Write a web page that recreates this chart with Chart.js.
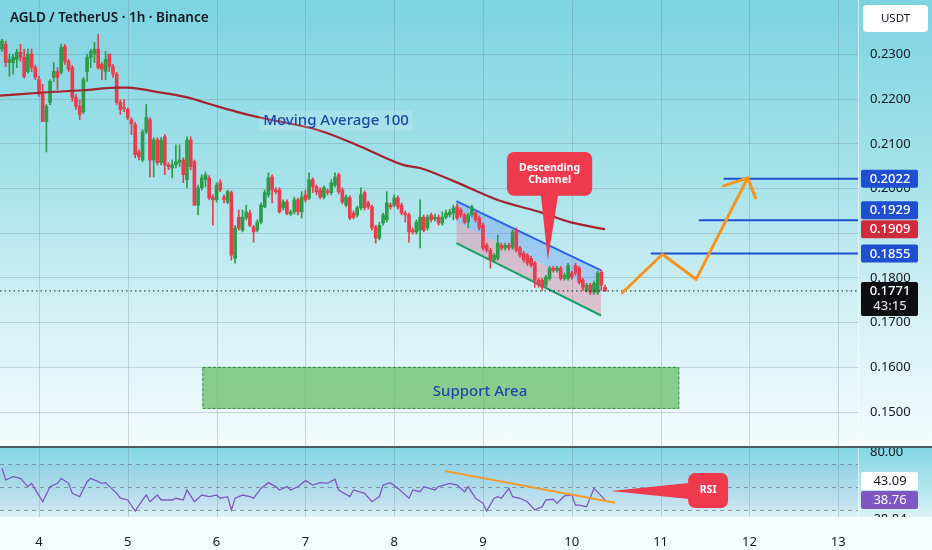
<!DOCTYPE html>
<html>
<head>
<meta charset="utf-8">
<title>AGLD / TetherUS 1h</title>
<script src="https://cdn.jsdelivr.net/npm/chart.js@4.4.1/dist/chart.umd.min.js"></script>
<style>
  html, body { margin: 0; padding: 0; }
  body { width: 932px; height: 550px; overflow: hidden; position: relative; background: #f6fcfd; }
  #mainPane { position: absolute; left: 0; top: 0; width: 932px; height: 446px;
    background: linear-gradient(180deg, #7cd4e1 0%, #a6e2ea 40%, #d3f1f5 70%, #f4fbfc 100%); }
  #sep { position: absolute; left: 0; top: 446px; width: 932px; height: 2px; background: #4f5d62; }
  #rsiPane { position: absolute; left: 0; top: 448px; width: 932px; height: 69px;
    background: linear-gradient(180deg, #82d6e3 0%, #b4e6ee 60%, #dcf3f6 100%); }
  #rsiBox { position: absolute; left: 0; top: 448px; width: 932px; height: 102px; }
  canvas { display: block; }
</style>
</head>
<body>
<div id="mainPane"><canvas id="priceChart" width="932" height="446"></canvas></div>
<div id="sep"></div>
<div id="rsiPane"></div>
<div id="rsiBox"><canvas id="rsiChart" width="932" height="102"></canvas></div>
<script>
const FONT = "'Noto Sans', 'DejaVu Sans', sans-serif";
const TEXT = '#131722';
const GRID = 'rgba(110, 135, 148, 0.3)';
const UP = '#2e9b47';
const DOWN = '#ec3b4b';
const BLUE = '#1f4fd0';
const ORANGE = '#f7931e';
const CALLOUT = '#ef3a4e';

const TITLE = 'AGLD / TetherUS \u00b7 1h \u00b7 Binance';
const CURRENCY = 'USDT';
const COUNTDOWN = '43:15';

// first candle opens on day 3 at 14:00, one candle per hour
const START_DAY = 3 + 14 / 24;
const DAY_TICKS = [4, 5, 6, 7, 8, 9, 10, 11, 12, 13];
const PRICE_TICKS = [0.15, 0.16, 0.17, 0.18, 0.19, 0.20, 0.21, 0.22, 0.23];
const X_MIN = 3.561, X_MAX = 13.223;
const P_MIN = 0.1424, P_MAX = 0.2422;
const RSI_MIN = 23.9, RSI_MAX = 83.9;

const candleOpen = [
  0.2312, 0.2323, 0.2282, 0.2282, 0.2289, 0.2305, 0.2294, 0.2262, 0.2301, 0.2271,
  0.2244, 0.2211, 0.2150, 0.2193, 0.2249, 0.2262, 0.2260, 0.2318, 0.2285, 0.2271,
  0.2204, 0.2184, 0.2172, 0.2262, 0.2294, 0.2301, 0.2312, 0.2278, 0.2262, 0.2301,
  0.2273, 0.2256, 0.2193, 0.2181, 0.2177, 0.2154, 0.2143, 0.2082, 0.2064, 0.2127,
  0.2154, 0.2064, 0.2109, 0.2058, 0.2116, 0.2053, 0.2046, 0.2053, 0.2058, 0.2064,
  0.2020, 0.2109, 0.2060, 0.1963, 0.2002, 0.2020, 0.2024, 0.1981, 0.1975, 0.2013,
  0.1981, 0.1970, 0.1991, 0.1844, 0.1936, 0.1907, 0.1934, 0.1945, 0.1914, 0.1907,
  0.1925, 0.1959, 0.1986, 0.2026, 0.1997, 0.1997, 0.1957, 0.1970, 0.1943, 0.1948,
  0.1975, 0.1948, 0.1986, 0.1979, 0.2020, 0.2004, 0.1997, 0.1981, 0.1995, 0.1991,
  0.2008, 0.2031, 0.1997, 0.1963, 0.1979, 0.1945, 0.1941, 0.1957, 0.1991, 0.1968,
  0.1959, 0.1914, 0.1889, 0.1923, 0.1930, 0.1963, 0.1963, 0.1979, 0.1963, 0.1945,
  0.1941, 0.1907, 0.1903, 0.1907, 0.1936, 0.1912, 0.1941, 0.1932, 0.1936, 0.1923,
  0.1936, 0.1941, 0.1945, 0.1959, 0.1952, 0.1941, 0.1925, 0.1941, 0.1945, 0.1934,
  0.1918, 0.1873, 0.1862, 0.1840, 0.1844, 0.1873, 0.1867, 0.1873, 0.1869, 0.1907,
  0.1867, 0.1855, 0.1851, 0.1844, 0.1833, 0.1795, 0.1795, 0.1784, 0.1799, 0.1822,
  0.1817, 0.1822, 0.1799, 0.1799, 0.1811, 0.1828, 0.1822, 0.1795, 0.1772, 0.1784,
  0.1768, 0.1768, 0.1813, 0.1779
];
const candleHigh = [
  0.2334, 0.2330, 0.2301, 0.2301, 0.2312, 0.2323, 0.2312, 0.2312, 0.2312, 0.2276,
  0.2251, 0.2233, 0.2188, 0.2244, 0.2282, 0.2271, 0.2323, 0.2323, 0.2289, 0.2276,
  0.2211, 0.2199, 0.2249, 0.2301, 0.2312, 0.2327, 0.2345, 0.2282, 0.2307, 0.2301,
  0.2278, 0.2260, 0.2199, 0.2199, 0.2181, 0.2159, 0.2148, 0.2087, 0.2132, 0.2188,
  0.2159, 0.2114, 0.2114, 0.2114, 0.2121, 0.2058, 0.2064, 0.2098, 0.2098, 0.2069,
  0.2116, 0.2116, 0.2064, 0.2008, 0.2031, 0.2037, 0.2029, 0.1986, 0.2013, 0.2020,
  0.1986, 0.1997, 0.1995, 0.1918, 0.1952, 0.1952, 0.1963, 0.1952, 0.1918, 0.1930,
  0.1968, 0.1997, 0.2035, 0.2031, 0.2002, 0.2002, 0.1975, 0.1975, 0.1952, 0.1981,
  0.1979, 0.1993, 0.1997, 0.2035, 0.2024, 0.2008, 0.2002, 0.2006, 0.1999, 0.2020,
  0.2035, 0.2035, 0.2002, 0.1986, 0.1984, 0.1950, 0.1961, 0.2002, 0.1995, 0.1972,
  0.1963, 0.1918, 0.1925, 0.1945, 0.1993, 0.1968, 0.1986, 0.1984, 0.1968, 0.1950,
  0.1945, 0.1912, 0.1930, 0.1975, 0.1941, 0.1941, 0.1945, 0.1943, 0.1941, 0.1948,
  0.1952, 0.1954, 0.1963, 0.1966, 0.1957, 0.1945, 0.1945, 0.1963, 0.1950, 0.1939,
  0.1923, 0.1878, 0.1867, 0.1855, 0.1896, 0.1878, 0.1878, 0.1878, 0.1907, 0.1912,
  0.1871, 0.1860, 0.1855, 0.1849, 0.1837, 0.1799, 0.1799, 0.1806, 0.1826, 0.1826,
  0.1826, 0.1826, 0.1811, 0.1833, 0.1815, 0.1833, 0.1826, 0.1799, 0.1788, 0.1788,
  0.1793, 0.1815, 0.1817, 0.1784
];
const candleLow = [
  0.2307, 0.2273, 0.2251, 0.2256, 0.2271, 0.2285, 0.2247, 0.2258, 0.2262, 0.2244,
  0.2206, 0.2150, 0.2082, 0.2188, 0.2240, 0.2222, 0.2256, 0.2278, 0.2262, 0.2195,
  0.2177, 0.2154, 0.2168, 0.2240, 0.2271, 0.2282, 0.2267, 0.2244, 0.2244, 0.2262,
  0.2249, 0.2188, 0.2166, 0.2172, 0.2154, 0.2121, 0.2069, 0.2064, 0.2060, 0.2123,
  0.2026, 0.2026, 0.2053, 0.2053, 0.2031, 0.2042, 0.2024, 0.2046, 0.2049, 0.2013,
  0.2002, 0.2042, 0.1963, 0.1941, 0.1997, 0.2004, 0.1975, 0.1918, 0.1970, 0.1993,
  0.1968, 0.1966, 0.1840, 0.1833, 0.1907, 0.1903, 0.1930, 0.1914, 0.1880, 0.1903,
  0.1921, 0.1957, 0.1981, 0.1968, 0.1988, 0.1945, 0.1952, 0.1941, 0.1939, 0.1943,
  0.1941, 0.1934, 0.1970, 0.1975, 0.1991, 0.1986, 0.1977, 0.1977, 0.1986, 0.1986,
  0.2004, 0.1988, 0.1966, 0.1959, 0.1930, 0.1932, 0.1936, 0.1952, 0.1952, 0.1954,
  0.1907, 0.1878, 0.1885, 0.1918, 0.1925, 0.1954, 0.1959, 0.1954, 0.1941, 0.1925,
  0.1880, 0.1898, 0.1898, 0.1867, 0.1903, 0.1907, 0.1925, 0.1927, 0.1918, 0.1918,
  0.1932, 0.1936, 0.1930, 0.1930, 0.1936, 0.1921, 0.1912, 0.1936, 0.1925, 0.1907,
  0.1862, 0.1858, 0.1822, 0.1835, 0.1840, 0.1862, 0.1862, 0.1862, 0.1864, 0.1858,
  0.1846, 0.1835, 0.1828, 0.1824, 0.1779, 0.1779, 0.1772, 0.1779, 0.1795, 0.1813,
  0.1813, 0.1795, 0.1795, 0.1795, 0.1797, 0.1806, 0.1786, 0.1772, 0.1768, 0.1763,
  0.1763, 0.1763, 0.1772, 0.1770
];
const candleClose = [
  0.2330, 0.2282, 0.2289, 0.2294, 0.2305, 0.2294, 0.2251, 0.2301, 0.2271, 0.2249,
  0.2211, 0.2150, 0.2184, 0.2240, 0.2262, 0.2249, 0.2316, 0.2285, 0.2267, 0.2204,
  0.2184, 0.2166, 0.2244, 0.2294, 0.2307, 0.2312, 0.2271, 0.2267, 0.2289, 0.2273,
  0.2256, 0.2193, 0.2177, 0.2179, 0.2159, 0.2145, 0.2076, 0.2071, 0.2127, 0.2159,
  0.2064, 0.2109, 0.2058, 0.2109, 0.2053, 0.2049, 0.2053, 0.2060, 0.2064, 0.2031,
  0.2109, 0.2049, 0.1963, 0.2002, 0.2024, 0.2031, 0.1979, 0.1975, 0.2008, 0.1997,
  0.1975, 0.1993, 0.1851, 0.1912, 0.1912, 0.1936, 0.1948, 0.1918, 0.1903, 0.1925,
  0.1963, 0.1991, 0.2024, 0.1997, 0.1993, 0.1948, 0.1970, 0.1945, 0.1948, 0.1975,
  0.1948, 0.1981, 0.1975, 0.2020, 0.2004, 0.1993, 0.1981, 0.2002, 0.1991, 0.2013,
  0.2026, 0.1993, 0.1970, 0.1981, 0.1934, 0.1936, 0.1957, 0.1986, 0.1957, 0.1959,
  0.1912, 0.1889, 0.1918, 0.1941, 0.1968, 0.1959, 0.1979, 0.1959, 0.1945, 0.1941,
  0.1903, 0.1903, 0.1925, 0.1936, 0.1907, 0.1936, 0.1930, 0.1936, 0.1923, 0.1936,
  0.1945, 0.1948, 0.1957, 0.1934, 0.1941, 0.1925, 0.1941, 0.1959, 0.1930, 0.1912,
  0.1867, 0.1862, 0.1840, 0.1851, 0.1878, 0.1867, 0.1873, 0.1867, 0.1903, 0.1862,
  0.1851, 0.1840, 0.1833, 0.1828, 0.1795, 0.1784, 0.1779, 0.1802, 0.1822, 0.1817,
  0.1822, 0.1799, 0.1806, 0.1828, 0.1802, 0.1811, 0.1790, 0.1779, 0.1784, 0.1768,
  0.1788, 0.1811, 0.1784, 0.1771
];

// Moving average 100, read at points along the curve (day, price)
const maDays = [3.56, 4.05, 4.50, 4.88, 5.00, 5.31, 5.67, 6.01, 6.26, 6.49, 7.16, 7.62, 8.10, 8.29, 8.69, 9.16, 9.68, 9.98, 10.375];
const maValues = [0.2208, 0.2215, 0.2220, 0.2226, 0.2226, 0.2217, 0.2204, 0.2184, 0.2170, 0.2159, 0.2130, 0.2094, 0.2053, 0.2046, 0.2015, 0.1975, 0.1945, 0.1925, 0.1909];

// descending channel (two anchor days)
const channelDays = [8.70, 10.33];
const channelTop = [0.1972, 0.1817];
const channelMid = [0.1925, 0.1767];
const channelBottom = [0.1878, 0.1716];

// target levels and where each one starts
const targetLevels = [0.2022, 0.1929, 0.1855];
const targetFrom = [11.71, 11.43, 10.89];

// projected path and its arrow head
const pathDays = [10.57, 11.02, 11.40, 11.98];
const pathPrices = [0.1767, 0.1853, 0.1797, 0.2024];
const headDays = [11.71, 11.98, 12.07];
const headPrices = [0.2006, 0.2024, 0.1979];

// support zone: [from day, to day], [top, bottom]
const supportDays = [5.84, 11.21];
const supportPrices = [0.1601, 0.1507];

const channelCallout = {
  lines: ['Descending', 'Channel'],
  days: [9.27, 10.23], values: [0.2082, 0.1984],
  tip: [9.73, 0.1840], base: [[9.65, 0.1990], [9.85, 0.1990]],
};
const maLabel = { text: 'Moving Average 100', day: 7.345, value: 0.2152 };
const supportLabel = { text: 'Support Area', day: 8.966, value: 0.1546 };

// RSI pane
const rsiHours = [0, 1, 3, 5, 7, 8, 11, 13, 15, 16, 18, 19, 21, 23, 24, 27, 28, 31, 32, 34,
  36, 38, 39, 40, 42, 43, 46, 47, 49, 50, 52, 54, 56, 58, 59, 61, 62, 63, 65, 67,
  68, 70, 72, 74, 75, 77, 78, 80, 82, 84, 86, 88, 90, 91, 94, 95, 98, 100, 102, 103,
  105, 107, 110, 111, 113, 114, 117, 118, 121, 123, 125, 126, 128, 130, 131, 133, 134, 135, 137, 138,
  140, 142, 144, 146, 147, 149, 150, 152, 154, 155, 156, 158, 160, 163];
const rsiValues = [66.3, 56.1, 59.0, 57.5, 50.3, 53.2, 37.2, 50.3, 53.2, 57.5, 53.2, 44.5, 41.6, 54.6, 57.5, 53.2, 53.8, 44.5, 40.2, 38.7,
  29.1, 38.7, 43.0, 37.2, 43.0, 38.7, 38.7, 40.2, 38.7, 47.4, 37.2, 43.0, 41.6, 43.0, 40.2, 41.6, 30.0, 40.2, 43.0, 41.6,
  40.2, 48.8, 53.8, 50.3, 47.4, 50.3, 47.4, 50.3, 55.5, 51.7, 53.8, 53.2, 56.7, 47.4, 41.6, 47.4, 44.5, 37.2, 41.6, 51.7,
  53.8, 48.8, 40.2, 47.4, 45.9, 50.3, 47.4, 50.3, 53.2, 51.7, 45.9, 50.3, 40.2, 35.8, 29.1, 40.2, 41.6, 40.2, 48.8, 41.6,
  40.2, 37.2, 30.0, 32.9, 38.7, 39.3, 35.8, 42.2, 43.0, 34.3, 34.3, 32.9, 48.8, 38.76];
const rsiBands = [70, 50, 30];
const rsiTicks = [80];
const rsiMaValue = 43.09;
const rsiLowValue = 28.84;
const rsiTrendDays = [8.57, 10.49];
const rsiTrendValues = [63.9, 36.3];
const rsiCallout = {
  lines: ['RSI'],
  days: [11.31, 11.76], values: [62.2, 31.7],
  tip: [10.44, 46.5], base: [[11.32, 53.5], [11.32, 39.6]],
};

const hourToDay = h => START_DAY + h / 24;
const pts = (xs, ys) => xs.map((x, i) => ({ x, y: ys[i] }));
const flat = (from, value) => [{ x: from, y: value }, { x: X_MAX, y: value }];

function xAxis(showLabels) {
  return {
    type: 'linear', min: X_MIN, max: X_MAX, offset: false,
    afterBuildTicks: s => { s.ticks = DAY_TICKS.map(v => ({ value: v })); },
    afterFit: s => {
      s.height = showLabels ? 33 : 0;
      s.paddingLeft = 0; s.paddingRight = 0;
    },
    grid: { display: false },
    border: { display: false },
    ticks: { display: showLabels, autoSkip: false, maxRotation: 0, padding: 9,
      color: TEXT, font: { family: FONT, size: 13 }, callback: v => String(v) },
  };
}

function rightAxis(min, max, ticks, fmt, showGrid) {
  return {
    type: 'linear', position: 'right', min, max,
    afterBuildTicks: s => { s.ticks = ticks.map(v => ({ value: v })); },
    afterFit: s => {
      s.width = 74;
      s.paddingTop = 0; s.paddingBottom = 0;
    },
    grid: { display: showGrid, color: GRID, drawTicks: false },
    border: { display: true, color: 'rgba(255,255,255,0.55)' },
    ticks: { autoSkip: false, padding: 12, color: TEXT, font: { family: FONT, size: 13 }, callback: fmt },
  };
}

// vertical day lines, one per tick of the x scale
function drawDayLines(chart) {
  const { ctx, chartArea: a, scales: { x } } = chart;
  ctx.save();
  ctx.strokeStyle = GRID;
  ctx.lineWidth = 1;
  x.ticks.forEach(t => {
    const px = Math.round(x.getPixelForValue(t.value)) + 0.5;
    ctx.beginPath();
    ctx.moveTo(px, a.top);
    ctx.lineTo(px, a.bottom);
    ctx.stroke();
  });
  ctx.restore();
}

function drawCallout(ctx, x, y, c) {
  const l = x.getPixelForValue(c.days[0]), r = x.getPixelForValue(c.days[1]);
  const t = y.getPixelForValue(c.values[0]), b = y.getPixelForValue(c.values[1]);
  ctx.save();
  ctx.fillStyle = CALLOUT;
  ctx.beginPath();
  ctx.roundRect(l, t, r - l, b - t, 7);
  ctx.fill();
  ctx.beginPath();
  ctx.moveTo(x.getPixelForValue(c.tip[0]), y.getPixelForValue(c.tip[1]));
  c.base.forEach(p => ctx.lineTo(x.getPixelForValue(p[0]), y.getPixelForValue(p[1])));
  ctx.closePath();
  ctx.fill();
  ctx.fillStyle = '#ffffff';
  ctx.font = `bold 10.5px ${FONT}`;
  ctx.textAlign = 'center';
  ctx.textBaseline = 'middle';
  const lh = 12.5;
  const cy = (t + b) / 2 - (c.lines.length - 1) * lh / 2;
  c.lines.forEach((s, i) => ctx.fillText(s, (l + r) / 2, cy + i * lh));
  ctx.restore();
}

// push stacked axis tags apart; `fixed` keeps its place
function spreadTags(tags, fixed, gap) {
  const i0 = tags.indexOf(fixed);
  for (let i = i0 - 1; i >= 0; i--) tags[i].py = Math.min(tags[i].py, tags[i + 1].py - gap);
  for (let i = i0 + 1; i < tags.length; i++) tags[i].py = Math.max(tags[i].py, tags[i - 1].py + gap);
}

function tag(ctx, left, py, text, bg, fg) {
  ctx.fillStyle = bg;
  ctx.beginPath();
  ctx.roundRect(left, py - 9, 57, 18, 2);
  ctx.fill();
  ctx.fillStyle = fg;
  ctx.fillText(text, left + 29, py + 0.5);
}

const priceOverlay = {
  id: 'priceOverlay',
  beforeDatasetsDraw(chart) {
    drawDayLines(chart);
    const { ctx, scales: { x, y } } = chart;
    const l = x.getPixelForValue(supportDays[0]), r = x.getPixelForValue(supportDays[1]);
    const t = y.getPixelForValue(supportPrices[0]), b = y.getPixelForValue(supportPrices[1]);
    ctx.save();
    ctx.fillStyle = 'rgba(100, 188, 100, 0.72)';
    ctx.fillRect(l, t, r - l, b - t);
    ctx.strokeStyle = 'rgba(40, 120, 50, 0.8)';
    ctx.setLineDash([3, 2]);
    ctx.lineWidth = 1;
    ctx.strokeRect(l + 0.5, t + 0.5, r - l - 1, b - t - 1);
    ctx.restore();
  },
  afterDatasetsDraw(chart) {
    const { ctx, scales: { x, y } } = chart;
    ctx.save();
    ctx.font = `500 15px ${FONT}`;
    ctx.textAlign = 'center';
    ctx.textBaseline = 'middle';
    // MA label with its faint plate
    const mx = x.getPixelForValue(maLabel.day), my = y.getPixelForValue(maLabel.value);
    const mw = ctx.measureText(maLabel.text).width;
    ctx.fillStyle = 'rgba(255,255,255,0.14)';
    ctx.fillRect(mx - mw / 2 - 4, my - 10, mw + 8, 20);
    ctx.fillStyle = '#1d46a8';
    ctx.fillText(maLabel.text, mx, my);
    ctx.fillText(supportLabel.text, x.getPixelForValue(supportLabel.day), y.getPixelForValue(supportLabel.value));
    ctx.restore();
    drawCallout(ctx, x, y, channelCallout);
  },
  afterDraw(chart) {
    const { ctx, chartArea, scales: { y } } = chart;
    const left = chartArea.right + 3;
    ctx.save();
    // title
    ctx.font = `600 13.5px ${FONT}`;
    ctx.fillStyle = TEXT;
    ctx.textAlign = 'left';
    ctx.textBaseline = 'middle';
    ctx.fillText(TITLE, 10, 18);
    // currency box
    ctx.fillStyle = '#ffffff';
    ctx.beginPath();
    ctx.roundRect(863, 5, 65, 27, 4);
    ctx.fill();
    ctx.fillStyle = TEXT;
    ctx.font = `11.5px ${FONT}`;
    ctx.textAlign = 'center';
    ctx.fillText(CURRENCY, 895.5, 19);
    // level tags
    const maLast = maValues[maValues.length - 1];
    const tags = [
      ...targetLevels.map(v => ({ v, bg: BLUE })),
      { v: maLast, bg: '#cf2b3b' },
    ].sort((a, b) => b.v - a.v);
    tags.forEach(t => { t.py = y.getPixelForValue(t.v); });
    spreadTags(tags, tags.find(t => t.v === maLast), 19);
    ctx.font = `500 13px ${FONT}`;
    tags.forEach(t => tag(ctx, left, t.py, t.v.toFixed(4), t.bg, '#ffffff'));
    // last price with countdown
    const last = candleClose[candleClose.length - 1];
    const ly = y.getPixelForValue(last);
    ctx.fillStyle = '#0c0e12';
    ctx.beginPath();
    ctx.roundRect(left, ly - 9, 57, 34, 2);
    ctx.fill();
    ctx.fillStyle = '#ffffff';
    ctx.fillText(last.toFixed(4), left + 29, ly + 0.5);
    ctx.fillStyle = '#d8d8d8';
    ctx.fillText(COUNTDOWN, left + 29, ly + 15);
    ctx.restore();
  },
};

const rsiOverlay = {
  id: 'rsiOverlay',
  beforeDatasetsDraw(chart) {
    drawDayLines(chart);
    const { ctx, chartArea: a, scales: { y } } = chart;
    ctx.save();
    const t = y.getPixelForValue(rsiBands[0]), b = y.getPixelForValue(rsiBands[rsiBands.length - 1]);
    ctx.fillStyle = 'rgba(126, 87, 194, 0.07)';
    ctx.fillRect(a.left, t, a.right - a.left, b - t);
    ctx.strokeStyle = 'rgba(110, 125, 135, 0.75)';
    ctx.setLineDash([4, 4]);
    ctx.lineWidth = 1;
    rsiBands.forEach(v => {
      const py = Math.round(y.getPixelForValue(v)) + 0.5;
      ctx.beginPath();
      ctx.moveTo(a.left, py);
      ctx.lineTo(a.right, py);
      ctx.stroke();
    });
    ctx.restore();
  },
  afterDatasetsDraw(chart) {
    const { ctx, scales: { x, y } } = chart;
    drawCallout(ctx, x, y, rsiCallout);
  },
  afterDraw(chart) {
    const { ctx, chartArea: a, scales: { y } } = chart;
    const left = a.right + 3;
    const lastRsi = rsiValues[rsiValues.length - 1];
    const tags = [
      { v: rsiMaValue, bg: '#ffffff', fg: TEXT },
      { v: lastRsi, bg: '#7e57c2', fg: '#ffffff' },
      { v: rsiLowValue, bg: null, fg: TEXT },
    ];
    tags.forEach(t => { t.py = y.getPixelForValue(t.v); });
    spreadTags(tags, tags[1], 19);
    ctx.save();
    ctx.beginPath();
    ctx.rect(a.right, a.top, 80, a.bottom - a.top);
    ctx.clip();
    ctx.font = `13px ${FONT}`;
    ctx.textAlign = 'center';
    ctx.textBaseline = 'middle';
    tags.forEach(t => {
      if (t.bg) tag(ctx, left, t.py, t.v.toFixed(2), t.bg, t.fg);
      else { ctx.fillStyle = t.fg; ctx.fillText(t.v.toFixed(2), left + 29, t.py); }
    });
    ctx.restore();
  },
};

new Chart(document.getElementById('priceChart'), {
  type: 'line',
  data: {
    datasets: [
      { data: pts(channelDays, channelTop), borderColor: '#3060ee', borderWidth: 2,
        backgroundColor: 'rgba(50, 100, 245, 0.24)', fill: '+1', pointRadius: 0, order: 22 },
      { data: pts(channelDays, channelMid), borderWidth: 0, borderColor: 'rgba(0,0,0,0)',
        backgroundColor: 'rgba(250, 90, 125, 0.3)', fill: '+1', pointRadius: 0, order: 21 },
      { data: pts(channelDays, channelBottom), borderColor: '#1f9d6a', borderWidth: 2,
        fill: false, pointRadius: 0, order: 20 },
      { type: 'bar', data: candleOpen.map((_, i) => ({ x: hourToDay(i), y: [candleLow[i], candleHigh[i]] })),
        backgroundColor: candleClose.map((c, i) => c >= candleOpen[i] ? UP : DOWN),
        barThickness: 1, minBarLength: 1, grouped: false, order: 10 },
      { type: 'bar', data: candleOpen.map((o, i) => ({ x: hourToDay(i), y: [o, candleClose[i]] })),
        backgroundColor: candleClose.map((c, i) => c >= candleOpen[i] ? UP : DOWN),
        barThickness: 3, minBarLength: 1, grouped: false, order: 9 },
      { data: pts(maDays, maValues), borderColor: '#a3232f', borderWidth: 2.2,
        cubicInterpolationMode: 'monotone', pointRadius: 0, fill: false, order: 5 },
      ...targetLevels.map((v, i) => ({ data: flat(targetFrom[i], v), borderColor: BLUE,
        borderWidth: 2, pointRadius: 0, fill: false, order: 4 })),
      { data: flat(X_MIN, candleClose[candleClose.length - 1]), borderColor: '#1a1d24',
        borderWidth: 1, borderDash: [1.5, 3], pointRadius: 0, fill: false, order: 3 },
      { data: pts(pathDays, pathPrices), borderColor: ORANGE, borderWidth: 3,
        borderCapStyle: 'round', borderJoinStyle: 'round', pointRadius: 0, fill: false, order: 2 },
      { data: pts(headDays, headPrices), borderColor: ORANGE, borderWidth: 3,
        borderCapStyle: 'round', borderJoinStyle: 'round', pointRadius: 0, fill: false, order: 2 },
    ],
  },
  options: {
    responsive: false,
    animation: false,
    events: [],
    layout: { padding: 0 },
    plugins: { legend: { display: false }, tooltip: { enabled: false } },
    scales: {
      x: xAxis(false),
      y: rightAxis(P_MIN, P_MAX, PRICE_TICKS, v => v.toFixed(4), true),
    },
  },
  plugins: [priceOverlay],
});

new Chart(document.getElementById('rsiChart'), {
  type: 'line',
  data: {
    datasets: [
      { data: pts(rsiHours.map(hourToDay), rsiValues), borderColor: '#7e57c2', borderWidth: 1.3,
        pointRadius: 0, fill: false, order: 2 },
      { data: pts(rsiTrendDays, rsiTrendValues), borderColor: '#f29b30', borderWidth: 2,
        pointRadius: 0, fill: false, order: 1 },
    ],
  },
  options: {
    responsive: false,
    animation: false,
    events: [],
    layout: { padding: 0 },
    plugins: { legend: { display: false }, tooltip: { enabled: false } },
    scales: {
      x: xAxis(true),
      y: rightAxis(RSI_MIN, RSI_MAX, rsiTicks, v => v.toFixed(2), false),
    },
  },
  plugins: [rsiOverlay],
});
</script>
</body>
</html>
